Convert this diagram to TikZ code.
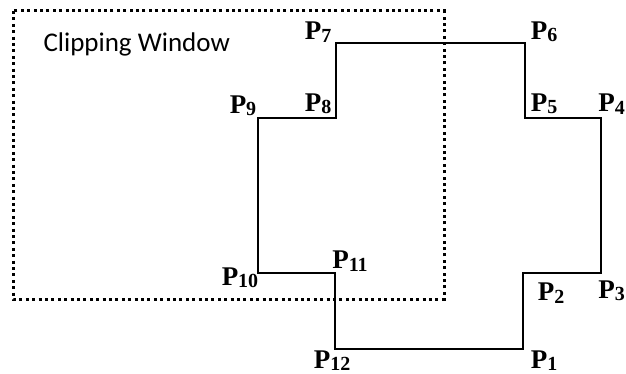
\documentclass[tikz,border=0pt]{standalone}
\usepackage{fontspec}
\setmainfont{Liberation Serif}
\newfontfamily\winfont{Carlito}
\usetikzlibrary{positioning}

\tikzset{
    edge/.style={line width=1.6pt, line join=miter},
    window/.style={line width=3pt, dash pattern=on 3pt off 3.4pt},
    ptlabel/.style={font=\fontsize{27}{29}\selectfont\bfseries, inner sep=0pt},
}
\newcommand{\pname}[1]{P\raisebox{-0.2ex}{\fontsize{20}{21}\selectfont #1}}

\begin{document}
\begin{tikzpicture}[x=1pt, y=-1pt]
    \useasboundingbox (0,0) rectangle (626,374);

    % Cac dinh cua da giac
    \foreach \i/\x/\y in {1/523/349, 2/523/273, 3/601/273, 4/601/118,
                          5/525/118, 6/525/43, 7/336/43, 8/336/118,
                          9/258/118, 10/258/273, 11/335/273, 12/335/349} {
        \coordinate (p\i) at (\x,\y);
    }

    % Da giac
    \draw[edge] (p1) -- (p2) -- (p3) -- (p4) -- (p5) -- (p6) -- (p7)
        -- (p8) -- (p9) -- (p10) -- (p11) -- (p12) -- cycle;

    % Cua so cat
    \coordinate (wtl) at (13,11);
    \coordinate (wbr) at (444,299);
    \draw[window] (wtl) rectangle (wbr);
    \node[font=\winfont\fontsize{27}{29}\selectfont, anchor=west] (title) at (40,44) {Clipping Window};

    % Nhan cac dinh
    \foreach \i/\x/\y in {2/551/293, 5/544/104, 6/544/32,
                          7/318/32, 8/318/104, 9/243/106, 10/240/278,
                          11/350/261} {
        \node[ptlabel] (l\i) at (\x,\y) {\pname{\i}};
    }
    \node[ptlabel, anchor=south] (l1) at (544,371) {\pname{1}};
    \node[ptlabel, anchor=south] (l12) at (332,371) {\pname{12}};
    \node[ptlabel, anchor=east] (l4) at (625,104) {\pname{4}};
    \node[ptlabel, anchor=east] (l3) at (625,291) {\pname{3}};
\end{tikzpicture}
\end{document}
